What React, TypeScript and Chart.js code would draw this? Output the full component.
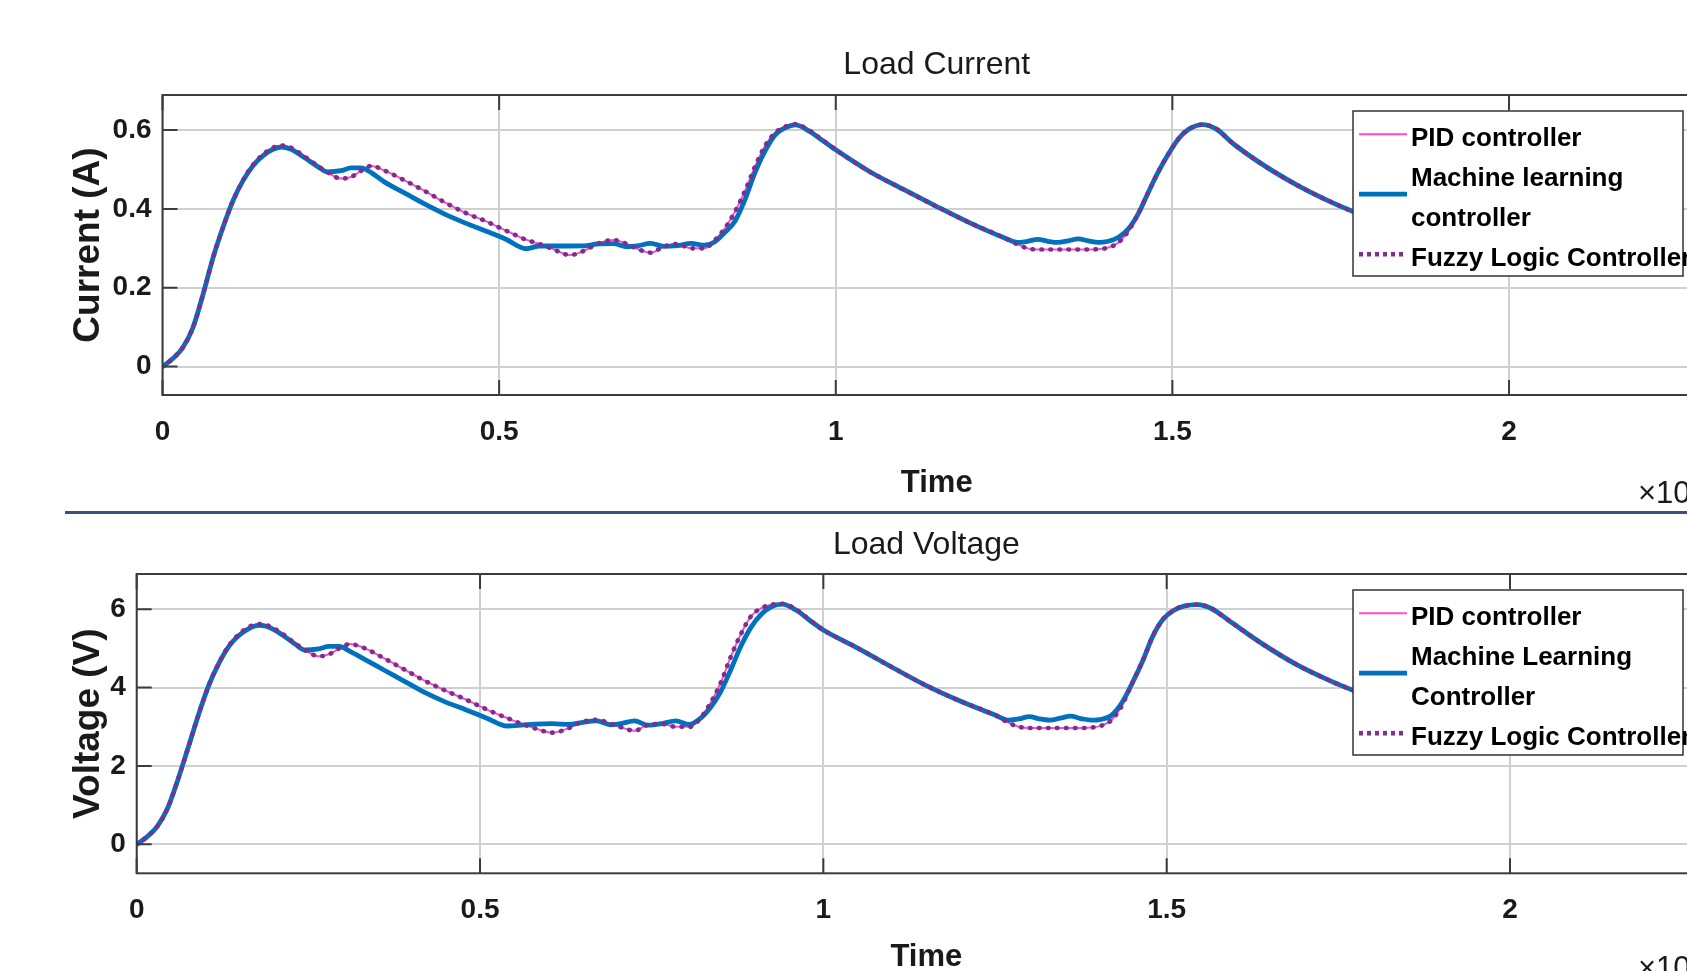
import React, { useEffect, useRef } from "react";
import { Chart, registerables } from "chart.js";

Chart.register(...registerables);

// ---------------- data ----------------
const TIME = [
  0, 0.015, 0.03, 0.045, 0.06, 0.075, 0.09, 0.105, 0.12, 0.135,
  0.15, 0.165, 0.177, 0.19, 0.21, 0.23, 0.245, 0.265, 0.28, 0.295,
  0.31, 0.33, 0.36, 0.39, 0.42, 0.45, 0.48, 0.51, 0.54, 0.56,
  0.58, 0.605, 0.63, 0.645, 0.67, 0.69, 0.705, 0.725, 0.745, 0.765,
  0.785, 0.805, 0.82, 0.835, 0.85, 0.865, 0.88, 0.895, 0.91, 0.925,
  0.94, 0.96, 0.98, 1.0, 1.05, 1.1, 1.15, 1.2, 1.25, 1.27,
  1.285, 1.3, 1.315, 1.33, 1.345, 1.36, 1.375, 1.39, 1.405, 1.42,
  1.435, 1.45, 1.465, 1.48, 1.495, 1.51, 1.525, 1.545, 1.565, 1.59,
  1.64, 1.69, 1.74, 1.79,
];

const CURRENT_PID = [
  0, 0.02, 0.048, 0.098, 0.182, 0.276, 0.354, 0.422, 0.474, 0.513,
  0.539, 0.556, 0.561, 0.556, 0.534, 0.51, 0.493, 0.477, 0.481, 0.497,
  0.509, 0.497, 0.472, 0.445, 0.416, 0.39, 0.369, 0.345, 0.322, 0.311,
  0.298, 0.283, 0.297, 0.311, 0.321, 0.311, 0.299, 0.289, 0.305, 0.311,
  0.3, 0.3, 0.32, 0.35, 0.392, 0.445, 0.507, 0.56, 0.593, 0.609,
  0.615, 0.6, 0.575, 0.55, 0.495, 0.45, 0.406, 0.364, 0.327, 0.31,
  0.3, 0.297, 0.297, 0.297, 0.297, 0.297, 0.297, 0.298, 0.302, 0.315,
  0.345, 0.39, 0.445, 0.497, 0.542, 0.58, 0.603, 0.614, 0.603, 0.566,
  0.506, 0.456, 0.414, 0.378,
];

const CURRENT_ML = [
  0, 0.02, 0.048, 0.098, 0.182, 0.276, 0.354, 0.422, 0.473, 0.511,
  0.536, 0.552, 0.557, 0.552, 0.531, 0.508, 0.494, 0.497, 0.504, 0.504,
  0.492, 0.468, 0.44, 0.412, 0.386, 0.364, 0.344, 0.323, 0.299, 0.306,
  0.306, 0.306, 0.307, 0.311, 0.312, 0.304, 0.306, 0.3125, 0.305, 0.307,
  0.3125, 0.308, 0.316, 0.34, 0.368, 0.423, 0.492, 0.547, 0.588, 0.606,
  0.613, 0.598, 0.574, 0.55, 0.495, 0.45, 0.406, 0.364, 0.327, 0.315,
  0.318, 0.323, 0.318, 0.315, 0.319, 0.324, 0.319, 0.315, 0.318, 0.328,
  0.35, 0.39, 0.445, 0.497, 0.542, 0.58, 0.603, 0.614, 0.603, 0.566,
  0.506, 0.456, 0.414, 0.378,
];

const CURRENT_FLC = [
  0, 0.02, 0.048, 0.098, 0.182, 0.276, 0.354, 0.422, 0.474, 0.513,
  0.539, 0.556, 0.561, 0.556, 0.534, 0.51, 0.493, 0.477, 0.481, 0.497,
  0.509, 0.497, 0.472, 0.445, 0.416, 0.39, 0.369, 0.345, 0.322, 0.311,
  0.298, 0.283, 0.297, 0.311, 0.321, 0.311, 0.299, 0.289, 0.305, 0.311,
  0.3, 0.3, 0.32, 0.35, 0.392, 0.445, 0.507, 0.56, 0.593, 0.609,
  0.615, 0.6, 0.575, 0.55, 0.495, 0.45, 0.406, 0.364, 0.327, 0.31,
  0.3, 0.297, 0.297, 0.297, 0.297, 0.297, 0.297, 0.298, 0.302, 0.315,
  0.345, 0.39, 0.445, 0.497, 0.542, 0.58, 0.603, 0.614, 0.603, 0.566,
  0.506, 0.456, 0.414, 0.378,
];

const VOLTAGE_PID = [
  0, 0.19, 0.46, 0.92, 1.65, 2.47, 3.31, 4.06, 4.64, 5.09,
  5.38, 5.56, 5.62, 5.59, 5.4, 5.14, 4.96, 4.8, 4.85, 5.0,
  5.11, 5.02, 4.75, 4.46, 4.17, 3.92, 3.69, 3.44, 3.22, 3.08,
  2.96, 2.85, 2.97, 3.1, 3.18, 3.08, 2.99, 2.9, 3.05, 3.07,
  3.0, 3.0, 3.2, 3.59, 4.1, 4.78, 5.37, 5.83, 6.03, 6.12,
  6.14, 6.0, 5.73, 5.47, 5.01, 4.52, 4.05, 3.65, 3.3, 3.1,
  3.0, 2.97, 2.97, 2.97, 2.97, 2.97, 2.97, 2.98, 3.03, 3.18,
  3.55, 4.12, 4.68, 5.32, 5.75, 5.97, 6.08, 6.12, 6.02, 5.72,
  5.11, 4.58, 4.16, 3.8,
];

const VOLTAGE_ML = [
  0, 0.19, 0.46, 0.92, 1.65, 2.47, 3.31, 4.06, 4.63, 5.07,
  5.35, 5.52, 5.59, 5.56, 5.37, 5.12, 4.96, 4.99, 5.05, 5.05,
  4.93, 4.74, 4.45, 4.16, 3.87, 3.63, 3.43, 3.22, 3.02, 3.04,
  3.07, 3.08, 3.06, 3.1, 3.15, 3.05, 3.08, 3.15, 3.04, 3.08,
  3.15, 3.06, 3.2, 3.48, 3.88, 4.45, 5.06, 5.55, 5.88, 6.07,
  6.13, 5.98, 5.72, 5.47, 5.01, 4.52, 4.05, 3.65, 3.3, 3.17,
  3.2, 3.26, 3.2, 3.17, 3.22, 3.27, 3.21, 3.17, 3.19, 3.3,
  3.62, 4.12, 4.68, 5.32, 5.75, 5.97, 6.08, 6.12, 6.02, 5.72,
  5.11, 4.58, 4.16, 3.8,
];

const VOLTAGE_FLC = [
  0, 0.19, 0.46, 0.92, 1.65, 2.47, 3.31, 4.06, 4.64, 5.09,
  5.38, 5.56, 5.62, 5.59, 5.4, 5.14, 4.96, 4.8, 4.85, 5.0,
  5.11, 5.02, 4.75, 4.46, 4.17, 3.92, 3.69, 3.44, 3.22, 3.08,
  2.96, 2.85, 2.97, 3.1, 3.18, 3.08, 2.99, 2.9, 3.05, 3.07,
  3.0, 3.0, 3.2, 3.59, 4.1, 4.78, 5.37, 5.83, 6.03, 6.12,
  6.14, 6.0, 5.73, 5.47, 5.01, 4.52, 4.05, 3.65, 3.3, 3.1,
  3.0, 2.97, 2.97, 2.97, 2.97, 2.97, 2.97, 2.98, 3.03, 3.18,
  3.55, 4.12, 4.68, 5.32, 5.75, 5.97, 6.08, 6.12, 6.02, 5.72,
  5.11, 4.58, 4.16, 3.8,
];

const X_RANGE = [0, 2.3];
const X_TICKS = [0, 0.5, 1, 1.5, 2];
const Y_RANGE_CURRENT = [-0.072, 0.689];
const Y_TICKS_CURRENT = [0, 0.2, 0.4, 0.6];
const Y_RANGE_VOLTAGE = [-0.74, 6.9];
const Y_TICKS_VOLTAGE = [0, 2, 4, 6];

const LEGEND_CURRENT = [["PID controller"], ["Machine learning", "controller"], ["Fuzzy Logic Controller"]];
const LEGEND_VOLTAGE = [["PID controller"], ["Machine Learning", "Controller"], ["Fuzzy Logic Controller"]];

// ---------------- styles ----------------
const FONT = "'Liberation Sans', Arial, Helvetica, sans-serif";
const TEXT = "#1a1a1a";
const PINK = "#FF4DC4";
const BLUE = "#0072BD";
const PURPLE = "#7E2F8E";
const GRID = "#d0d0d0";
const FRAME = "#3c3c3c";
const TICK_LEN = 15;

type Spec = {
  top: number; width: number; height: number;
  title: string; yTitle: string; legend: string[][];
  pid: number[]; ml: number[]; flc: number[];
  yRange: number[]; yTicks: number[];
  yAxisWidth: number; xAxisHeight: number; padRight: number; padBottom: number;
  titlePadTop: number; titlePadBottom: number; xTickPad: number; yTitlePad: number;
  legendLeft: number; expX: number; expY: number;
};

const PANELS: Spec[] = [
  {
    top: 0, width: 1760, height: 520,
    title: "Load Current", yTitle: "Current (A)", legend: LEGEND_CURRENT,
    pid: CURRENT_PID, ml: CURRENT_ML, flc: CURRENT_FLC,
    yRange: Y_RANGE_CURRENT, yTicks: Y_TICKS_CURRENT,
    yAxisWidth: 162.5, xAxisHeight: 106.6, padRight: 49, padBottom: 18.4,
    titlePadTop: 46.4, titlePadBottom: 10.2, xTickPad: 20.7, yTitlePad: 66.5,
    legendLeft: 1353, expX: 1638, expY: 494,
  },
  {
    top: 515, width: 1760, height: 500,
    title: "Load Voltage", yTitle: "Voltage (V)", legend: LEGEND_VOLTAGE,
    pid: VOLTAGE_PID, ml: VOLTAGE_ML, flc: VOLTAGE_FLC,
    yRange: Y_RANGE_VOLTAGE, yTicks: Y_TICKS_VOLTAGE,
    yAxisWidth: 136.7, xAxisHeight: 102.9, padRight: 44, padBottom: 38.8,
    titlePadTop: 11.3, titlePadBottom: 9.3, xTickPad: 20.2, yTitlePad: 66.8,
    legendLeft: 1353, expX: 1638, expY: 454,
  },
];

const SERIES_STYLE = [
  { color: PINK, width: 2, dash: [] as number[], cap: "butt" },
  { color: BLUE, width: 4.8, dash: [] as number[], cap: "butt" },
  { color: PURPLE, width: 4.6, dash: [0.6, 8.4], cap: "round" },
];

function points(values: number[]) {
  const n = Math.min(TIME.length, values.length);
  const out: { x: number; y: number }[] = [];
  for (let i = 0; i < n; i++) out.push({ x: TIME[i], y: values[i] });
  return out;
}

function buildConfig(spec: Spec): any {
  const framePlugin = {
    id: "matlabFrame",
    afterDatasetsDraw(chart: any) {
      const { ctx, chartArea: a, scales } = chart;
      ctx.save();
      ctx.strokeStyle = FRAME;
      ctx.lineWidth = 2;
      ctx.beginPath();
      for (const v of X_TICKS) {
        const px = scales.x.getPixelForValue(v);
        ctx.moveTo(px, a.bottom);
        ctx.lineTo(px, a.bottom - TICK_LEN);
        ctx.moveTo(px, a.top);
        ctx.lineTo(px, a.top + TICK_LEN);
      }
      for (const v of spec.yTicks) {
        const py = scales.y.getPixelForValue(v);
        ctx.moveTo(a.left, py);
        ctx.lineTo(a.left + TICK_LEN, py);
        ctx.moveTo(a.right, py);
        ctx.lineTo(a.right - TICK_LEN, py);
      }
      ctx.stroke();
      ctx.strokeRect(a.left, a.top, a.right - a.left, a.bottom - a.top);
      ctx.restore();
    },
  };

  const legendPlugin = {
    id: "matlabLegend",
    afterDraw(chart: any) {
      const { ctx, chartArea: a } = chart;
      const bx = spec.legendLeft;
      const by = a.top + 16;
      const bw = 330;
      const bh = 165;
      ctx.save();
      ctx.fillStyle = "#ffffff";
      ctx.fillRect(bx, by, bw, bh);
      ctx.strokeStyle = "#333333";
      ctx.lineWidth = 1.5;
      ctx.strokeRect(bx, by, bw, bh);
      ctx.font = `bold 26px ${FONT}`;
      ctx.fillStyle = "#000000";
      ctx.textAlign = "left";
      ctx.textBaseline = "alphabetic";
      let row = 0;
      spec.legend.forEach((lines, i) => {
        const centers: number[] = [];
        lines.forEach((line) => {
          const cy = by + 25.7 + 40 * row;
          centers.push(cy);
          ctx.fillText(line, bx + 58, cy + 9.3);
          row++;
        });
        const sy = centers.reduce((s, c) => s + c, 0) / centers.length - 2.5;
        const st = SERIES_STYLE[i];
        ctx.beginPath();
        ctx.strokeStyle = st.color;
        ctx.lineWidth = st.width;
        ctx.lineCap = "butt";
        ctx.setLineDash(st.dash.length ? [4, 4] : []);
        ctx.moveTo(bx + 6, sy);
        ctx.lineTo(bx + 54, sy);
        ctx.stroke();
        ctx.setLineDash([]);
      });
      ctx.restore();
    },
  };

  const exponentPlugin = {
    id: "matlabExponent",
    afterDraw(chart: any) {
      const { ctx } = chart;
      ctx.save();
      ctx.fillStyle = TEXT;
      ctx.textAlign = "left";
      ctx.textBaseline = "middle";
      ctx.font = `31px ${FONT}`;
      ctx.fillText("\u00d710", spec.expX, spec.expY);
      const w = ctx.measureText("\u00d710").width;
      ctx.font = `20px ${FONT}`;
      ctx.fillText("4", spec.expX + w + 1, spec.expY - 12);
      ctx.restore();
    },
  };

  const labels = spec.legend.map((l) => l.join(" "));
  const datasets = [spec.pid, spec.ml, spec.flc].map((vals, i) => ({
    label: labels[i],
    data: points(vals),
    borderColor: SERIES_STYLE[i].color,
    borderWidth: SERIES_STYLE[i].width,
    borderDash: SERIES_STYLE[i].dash,
    borderCapStyle: SERIES_STYLE[i].cap,
    pointRadius: 0,
    fill: false,
    cubicInterpolationMode: "monotone",
    order: 2 - i,
  }));

  return {
    type: "line",
    data: { datasets },
    options: {
      responsive: false,
      animation: false,
      devicePixelRatio: 1,
      events: [],
      layout: { padding: { left: 0, top: 0, right: spec.padRight, bottom: spec.padBottom } },
      plugins: {
        legend: { display: false },
        tooltip: { enabled: false },
        title: {
          display: true,
          text: spec.title,
          fullSize: false,
          color: TEXT,
          font: { family: FONT, size: 32, weight: "normal", lineHeight: 1.2 },
          padding: { top: spec.titlePadTop, bottom: spec.titlePadBottom },
        },
      },
      scales: {
        x: {
          type: "linear",
          min: X_RANGE[0],
          max: X_RANGE[1],
          afterFit: (s: any) => { s.height = spec.xAxisHeight; },
          afterBuildTicks: (s: any) => { s.ticks = X_TICKS.map((v) => ({ value: v })); },
          ticks: {
            padding: spec.xTickPad,
            color: TEXT,
            font: { family: FONT, size: 28, weight: "bold", lineHeight: 1.2 },
            maxRotation: 0,
            autoSkip: false,
            callback: (v: any) => String(v),
          },
          grid: { color: GRID, lineWidth: 2, drawTicks: false },
          border: { display: false },
          title: {
            display: true,
            text: "Time",
            color: TEXT,
            font: { family: FONT, size: 31, weight: "bold", lineHeight: 1.2 },
            padding: { top: 0, bottom: 0 },
          },
        },
        y: {
          type: "linear",
          min: spec.yRange[0],
          max: spec.yRange[1],
          afterFit: (s: any) => { s.width = spec.yAxisWidth; },
          afterBuildTicks: (s: any) => { s.ticks = spec.yTicks.map((v) => ({ value: v })); },
          ticks: {
            padding: 11,
            color: TEXT,
            font: { family: FONT, size: 28, weight: "bold", lineHeight: 1.2 },
            autoSkip: false,
            callback: (v: any) => String(v),
          },
          grid: { color: GRID, lineWidth: 2, drawTicks: false },
          border: { display: false },
          title: {
            display: true,
            text: spec.yTitle,
            color: TEXT,
            font: { family: FONT, size: 37, weight: "bold", lineHeight: 1.2 },
            padding: { top: spec.yTitlePad, bottom: 0 },
          },
        },
      },
    },
    plugins: [framePlugin, legendPlugin, exponentPlugin],
  };
}

function Panel({ spec }: { spec: Spec }) {
  const ref = useRef<HTMLCanvasElement | null>(null);
  useEffect(() => {
    if (!ref.current) return;
    const chart = new Chart(ref.current, buildConfig(spec));
    return () => chart.destroy();
  }, [spec]);
  return (
    <canvas
      ref={ref}
      width={spec.width}
      height={spec.height}
      style={{ position: "absolute", left: 0, top: spec.top, width: spec.width, height: spec.height }}
    />
  );
}

export default function App() {
  return (
    <div
      style={{
        position: "absolute",
        left: 0,
        top: 0,
        width: 1687,
        height: 971,
        overflow: "hidden",
        background: "#ffffff",
      }}
    >
      <Panel spec={PANELS[0]} />
      <Panel spec={PANELS[1]} />
      <div
        style={{
          position: "absolute",
          left: 65,
          top: 511,
          width: 1640,
          height: 3,
          background: "#3f4e7e",
        }}
      />
    </div>
  );
}
